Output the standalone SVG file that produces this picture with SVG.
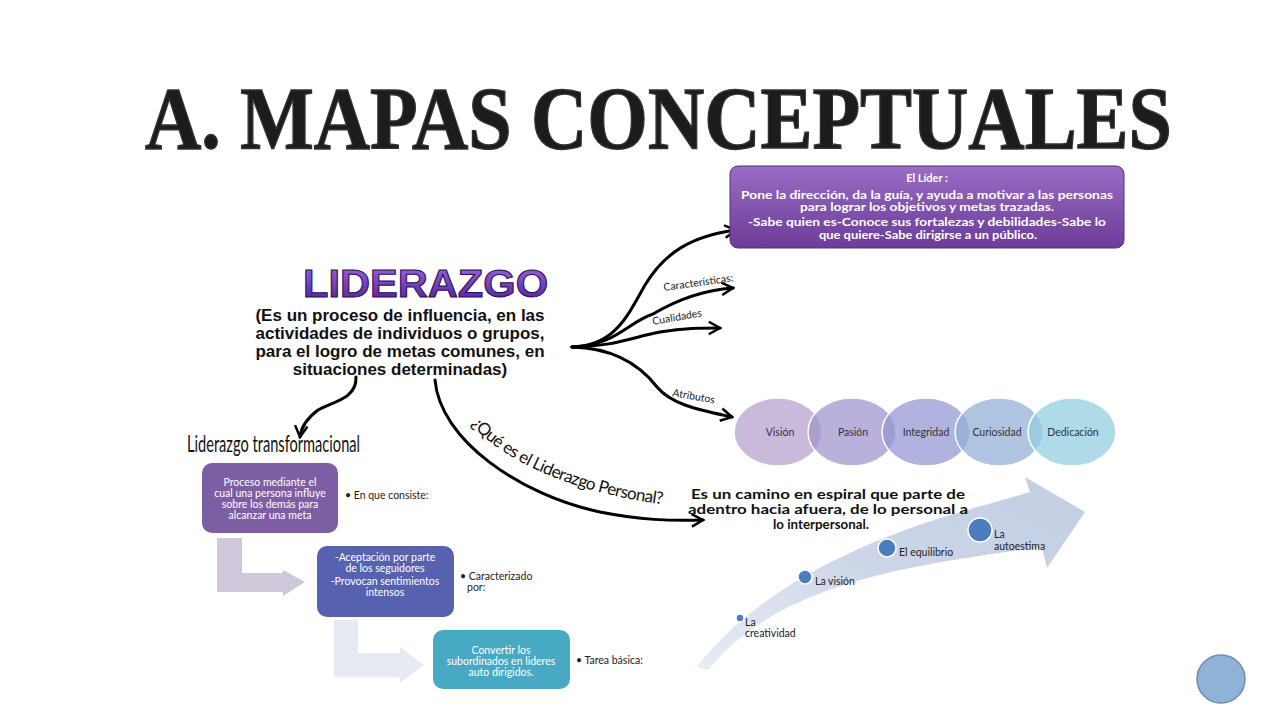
<svg xmlns="http://www.w3.org/2000/svg" width="1280" height="720" viewBox="0 0 1280 720">
<defs>
<style>
.cal{font-family:Lato,"Open Sans","Liberation Sans",sans-serif}
.wt{fill:#fff;font-size:10.5px}
.lbl{fill:#222;font-size:10.5px}
.conn{fill:none;stroke:#000;stroke-width:3;stroke-linecap:round}
.ell{stroke:#fff;stroke-width:1.5;fill-opacity:0.75}
.dot{fill:#4a7ebf;stroke:#fff;stroke-width:1.5}
</style>
<marker id="ah" viewBox="0 0 12 12" refX="10" refY="6" markerWidth="5" markerHeight="5" orient="auto" markerUnits="strokeWidth">
<path d="M1,1 L10,6 L1,11" fill="none" stroke="#000" stroke-width="2"/>
</marker>
<linearGradient id="gLider" x1="0" y1="0" x2="0" y2="1">
<stop offset="0" stop-color="#9a6cc4"/><stop offset="1" stop-color="#6c3c98"/>
</linearGradient>
<linearGradient id="gTitle" x1="0" y1="0" x2="0" y2="1">
<stop offset="0" stop-color="#9b6ae0"/><stop offset="1" stop-color="#4e1a98"/>
</linearGradient>
<linearGradient id="gArrow" x1="0" y1="1" x2="1" y2="0">
<stop offset="0" stop-color="#e8ecf4"/><stop offset="0.5" stop-color="#cdd6e8"/><stop offset="1" stop-color="#c2cde3"/>
</linearGradient>
<path id="qpath" d="M471,424 C508,466 585,496 676,506"/>
</defs>
<rect width="1280" height="720" fill="#fff"/>

<g id="title">
<text transform="translate(145,148) scale(0.88,1)" x="0" y="0" textLength="1167" lengthAdjust="spacingAndGlyphs" font-family="'Liberation Serif',serif" font-weight="bold" font-size="88" fill="#1c1c1c" stroke="#333" stroke-width="1.4">A. MAPAS CONCEPTUALES</text>
</g>

<g id="connectors">
<path class="conn" d="M572,347 C615,346 628,315 645,285 C665,252 692,236 736,230" marker-end="url(#ah)"/>
<path class="conn" d="M572,347 C615,346 628,322 653,314 C680,298 705,290 733,288" marker-end="url(#ah)"/>
<path class="conn" d="M572,347 C610,347 630,338 660,332 C685,328 700,328 720,328" marker-end="url(#ah)"/>
<path class="conn" d="M572,347 C615,348 640,365 657,387 C672,405 700,410 732,417" marker-end="url(#ah)"/>
<path class="conn" d="M356,377 C357,400 330,402 318,410 C306,419 301,428 300,437" marker-end="url(#ah)"/>
<path class="conn" d="M435,380 C440,440 520,495 600,512 C640,520 670,521 703,520" marker-end="url(#ah)"/>
<text class="cal" font-size="10.5" fill="#222" transform="translate(664,291) rotate(-8)">Características:</text>
<text class="cal" font-size="10.5" fill="#222" transform="translate(653,325) rotate(-10)">Cualidades</text>
<text class="cal" font-size="10.5" fill="#222" transform="translate(672,396) rotate(10)">Atributos</text>
<text class="cal" font-size="17" fill="#111" letter-spacing="-0.6"><textPath href="#qpath">¿Qué es el Liderazgo Personal?</textPath></text>
</g>

<g id="lider-box">
<rect x="730" y="166" width="394" height="82" rx="8" fill="url(#gLider)" stroke="#5a2f80" stroke-width="1"/>
<g class="cal" fill="#fff" font-weight="bold" font-size="11" text-anchor="middle">
<text x="927" y="182">El Líder :</text>
<text x="927" y="199" textLength="372" lengthAdjust="spacingAndGlyphs">Pone la dirección, da la guía, y ayuda a motivar a las personas</text>
<text x="927" y="211" textLength="254" lengthAdjust="spacingAndGlyphs">para lograr los objetivos y metas trazadas.</text>
<text x="927" y="226" textLength="358" lengthAdjust="spacingAndGlyphs">-Sabe quien es-Conoce sus fortalezas y debilidades-Sabe lo</text>
<text x="928" y="239" textLength="218" lengthAdjust="spacingAndGlyphs">que quiere-Sabe dirigirse a un público.</text>
</g>
</g>

<g id="liderazgo">
<text x="303" y="297" textLength="245" lengthAdjust="spacingAndGlyphs" font-family="'Liberation Sans',sans-serif" font-weight="bold" font-size="38" fill="url(#gTitle)" stroke="#2a0e50" stroke-width="1">LIDERAZGO</text>
<g font-family="'Liberation Sans',Arial,sans-serif" font-weight="bold" font-size="17" fill="#111" text-anchor="middle">
<text x="400" y="321">(Es un proceso de influencia, en las</text>
<text x="400" y="339">actividades de individuos o grupos,</text>
<text x="400" y="357">para el logro de metas comunes, en</text>
<text x="400" y="375">situaciones determinadas)</text>
</g>
</g>

<g id="atributos">
<ellipse class="ell" cx="778" cy="432" rx="44" ry="34" fill="#b7a2cf"/>
<ellipse class="ell" cx="852" cy="432" rx="44" ry="34" fill="#a196cf"/>
<ellipse class="ell" cx="926" cy="432" rx="44" ry="34" fill="#9499d2"/>
<ellipse class="ell" cx="999" cy="432" rx="44" ry="34" fill="#93b0d6"/>
<ellipse class="ell" cx="1072" cy="432" rx="44" ry="34" fill="#93cfdf"/>
<g class="cal" font-size="10.5" fill="#333" text-anchor="middle">
<text x="780" y="436">Visión</text>
<text x="853" y="436">Pasión</text>
<text x="926" y="436">Integridad</text>
<text x="997" y="436">Curiosidad</text>
<text x="1073" y="436">Dedicación</text>
</g>
</g>

<g id="transformacional">
<text x="187" y="452" textLength="173" lengthAdjust="spacingAndGlyphs" class="cal" font-size="23" fill="#111">Liderazgo transformacional</text>
<path d="M217,538 H242 V573 H283 V570 L305,582 L283,596 V592 H217 Z" fill="#cfc8da"/>
<path d="M334,620 H358 V653 H400 V647 L424,665 L400,683 V677 H334 Z" fill="#e6ebf3"/>
</g>

<g id="box1">
<rect x="202" y="463" width="136" height="70" rx="10" fill="#7d5ea4"/>
<g class="cal wt" text-anchor="middle">
<text x="270" y="486">Proceso mediante el</text>
<text x="270" y="497">cual una persona influye</text>
<text x="270" y="508">sobre los demás para</text>
<text x="270" y="519">alcanzar una meta</text>
</g>
<text class="cal lbl" x="345" y="499">• En que consiste:</text>
</g>

<g id="box2">
<rect x="317" y="546" width="137" height="71" rx="10" fill="#5661b0"/>
<g class="cal wt" text-anchor="middle" font-size="10.2">
<text x="385" y="561">-Aceptación por parte</text>
<text x="385" y="572">de los seguidores</text>
<text x="385" y="585">-Provocan sentimientos</text>
<text x="385" y="596">intensos</text>
</g>
<text class="cal lbl" x="460" y="580">• Caracterizado</text>
<text class="cal lbl" x="467" y="591">por:</text>
</g>

<g id="box3">
<rect x="433" y="630" width="137" height="59" rx="10" fill="#47a9c4"/>
<g class="cal wt" text-anchor="middle">
<text x="501" y="654">Convertir los</text>
<text x="501" y="665">subordinados en lideres</text>
<text x="501" y="676">auto dirigidos.</text>
</g>
<text class="cal lbl" x="576" y="664">• Tarea básica:</text>
</g>

<g id="personal">
<path d="M697,667 C740,610 820,555 950,515 C985,505 1010,498 1030,492 L1025,477 L1085,512 L1047,568 L1042,548 C1000,552 950,560 900,570 C800,592 745,625 708,670 Z" fill="url(#gArrow)"/>
<g class="cal" font-weight="bold" font-size="13.5" fill="#111" text-anchor="middle">
<text x="828" y="499" textLength="274" lengthAdjust="spacingAndGlyphs">Es un camino en espiral que parte de</text>
<text x="828" y="514" textLength="280" lengthAdjust="spacingAndGlyphs">adentro hacia afuera, de lo personal a</text>
<text x="821" y="529" textLength="96" lengthAdjust="spacingAndGlyphs">lo interpersonal.</text>
</g>
<circle class="dot" cx="740" cy="618" r="4"/>
<circle class="dot" cx="805" cy="577" r="7"/>
<circle class="dot" cx="887" cy="548" r="9"/>
<circle class="dot" cx="980" cy="530" r="12"/>
<g class="cal" font-size="10.5" fill="#222">
<text x="745" y="626">La</text>
<text x="745" y="637">creatividad</text>
<text x="815" y="585">La visión</text>
<text x="899" y="556">El equilibrio</text>
<text x="994" y="538">La</text>
<text x="994" y="550">autoestima</text>
</g>
</g>

<g id="corner">
<circle cx="1221" cy="679" r="24" fill="#90b2d6" stroke="#6c8db4" stroke-width="1.5"/>
</g>
</svg>
